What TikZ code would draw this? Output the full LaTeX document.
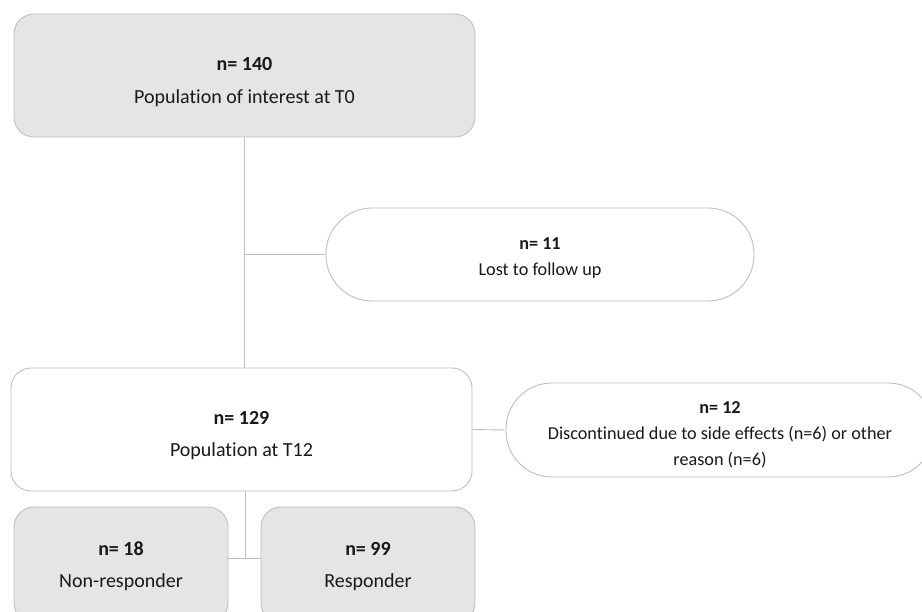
\documentclass[tikz,border=0pt]{standalone}
\usepackage{fontspec}
\setmainfont{Carlito}[Ligatures=NoCommon]
\usepackage{tikz}

% invisible strut that pushes a box's text a little down
\newcommand{\dropby}[1]{\rule{0pt}{#1}}

\begin{document}
\begin{tikzpicture}[
  x=1pt,
  y=-1pt,
  link/.style={draw=black!25, line width=0.9pt},
  stage/.style={
    rounded corners=20pt,
    draw=black!25,
    fill=black!10,
    line width=0.9pt,
    align=center,
    text=black!90,
    font=\fontsize{20}{24}\selectfont
  },
  cohort/.style={
    stage,
    fill=white
  },
  exit/.style={
    rounded corners=46pt,
    draw=black!25,
    fill=white,
    line width=0.9pt,
    minimum width=428pt,
    minimum height=93pt,
    align=center,
    text=black!90,
    font=\fontsize{18.2}{26}\selectfont
  }
]
\useasboundingbox (0,0) rectangle (922,612);

% Box centres and sizes are taken straight from the flow chart, in pixels.

\node[stage, minimum width=461pt, minimum height=123pt] (t0) at (244.5,75.5)
  {\dropby{27pt}\textbf{n= 140}\\[9pt] Population of interest at T0};

\node[exit] (lost) at (540,254.5) {\dropby{19pt}\textbf{n= 11}\\ Lost to follow up};

\node[cohort, minimum width=461pt, minimum height=123pt] (t12) at (241.5,429.5)
  {\dropby{25pt}\textbf{n= 129}\\[8pt] Population at T12};

\node[exit, minimum height=94pt] (disc) at (720,430)
  {\dropby{21.5pt}\textbf{n= 12}\\ Discontinued due to side effects (n=6) or other\\ reason (n=6)};

\node[stage, minimum width=214pt, minimum height=116pt] (nonresp) at (121,565)
  {\dropby{17pt}\textbf{n= 18}\\[8pt] Non-responder};
\node[stage, minimum width=214pt, minimum height=116pt] (resp) at (368,565)
  {\dropby{17pt}\textbf{n= 99}\\[8pt] Responder};

\coordinate (split) at (245,558);

\draw[link] (t0.south) -- (t0.south |- t12.north);
\draw[link] (t0.south |- lost.west) -- (lost.west);
\draw[link] (t12.east) -- (disc.west);
\draw[link] (t12.south -| split) -- (split);
\draw[link] (nonresp.east |- split) -- (resp.west |- split);

\end{tikzpicture}
\end{document}
